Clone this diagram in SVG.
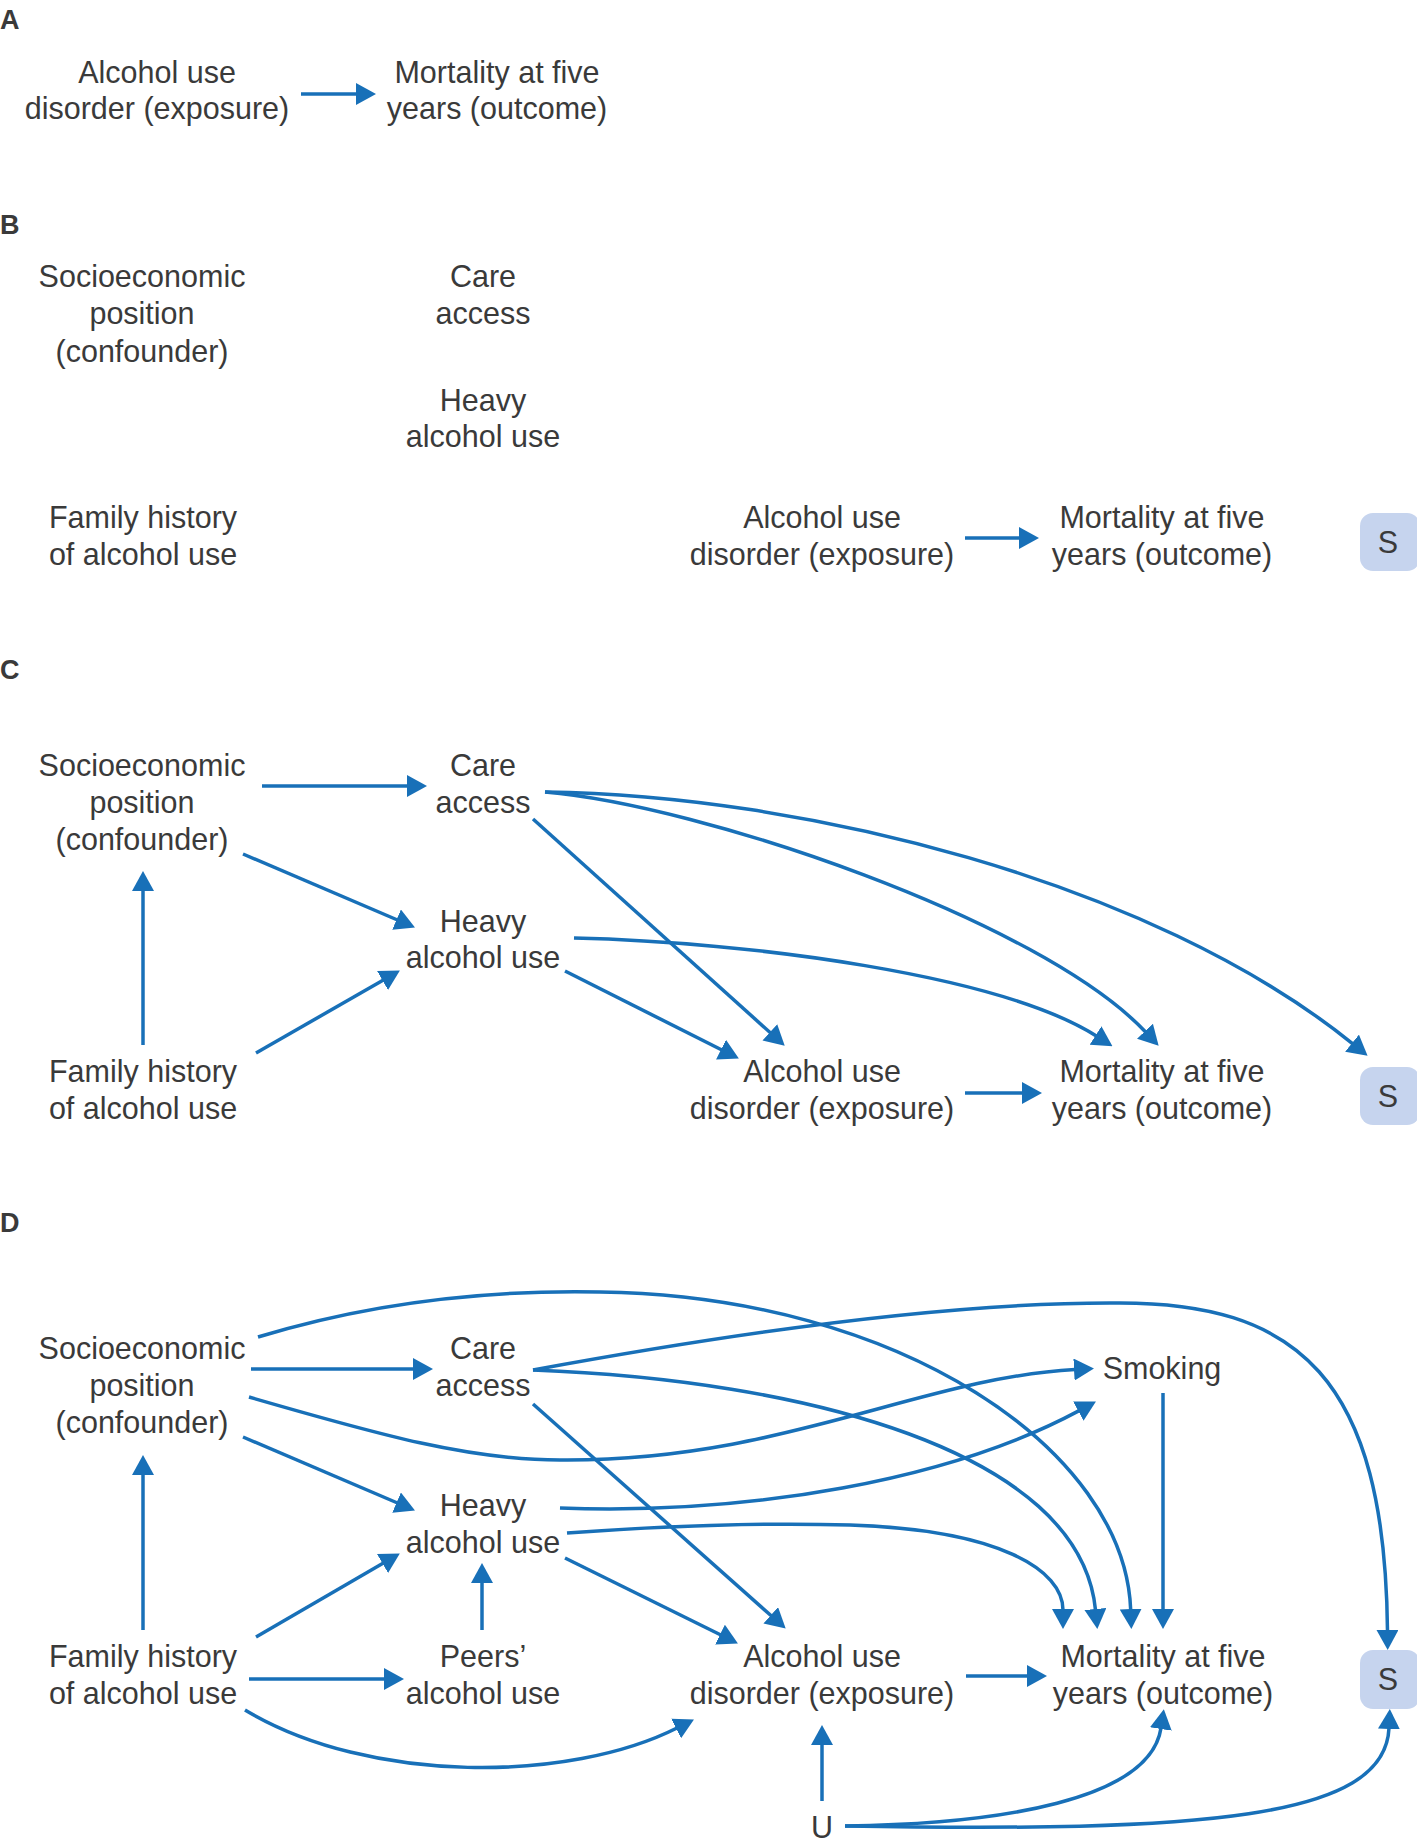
<svg xmlns="http://www.w3.org/2000/svg" width="1417" height="1847" viewBox="0 0 1417 1847">
<style>
.t{font-family:"Liberation Sans",Arial,sans-serif;font-size:30.5px;fill:#3a3a3a;text-anchor:middle}
.lb{font-family:"Liberation Sans",Arial,sans-serif;font-size:27px;font-weight:bold;fill:#3a3a3a}
.e{fill:none;stroke:#1870b8;stroke-width:3.5;marker-end:url(#ah)}
.sb{fill:#c6d4ee}
</style>
<defs>
<marker id="ah" markerUnits="userSpaceOnUse" markerWidth="20" markerHeight="22" refX="1" refY="11" orient="auto" viewBox="0 0 20 22">
<path d="M0,0 L20,11 L0,22 z" fill="#1870b8"/>
</marker>
</defs>
<rect width="1417" height="1847" fill="#fff"/>

<!-- Panel labels -->
<text class="lb" x="0" y="29">A</text>
<text class="lb" x="0" y="234">B</text>
<text class="lb" x="0" y="679">C</text>
<text class="lb" x="0" y="1232">D</text>

<!-- Panel A -->
<g id="A-exposure"><text class="t" x="157" y="83">Alcohol use</text><text class="t" x="157" y="119">disorder (exposure)</text></g>
<g id="A-outcome"><text class="t" x="497" y="83">Mortality at five</text><text class="t" x="497" y="119">years (outcome)</text></g>

<!-- Panel B -->
<g id="B-socio"><text class="t" x="142" y="287">Socioeconomic</text><text class="t" x="142" y="324">position</text><text class="t" x="142" y="362">(confounder)</text></g>
<g id="B-care"><text class="t" x="483" y="287">Care</text><text class="t" x="483" y="324">access</text></g>
<g id="B-heavy"><text class="t" x="483" y="411">Heavy</text><text class="t" x="483" y="447">alcohol use</text></g>
<g id="B-family"><text class="t" x="143" y="528">Family history</text><text class="t" x="143" y="565">of alcohol use</text></g>
<g id="B-exposure"><text class="t" x="822" y="528">Alcohol use</text><text class="t" x="822" y="565">disorder (exposure)</text></g>
<g id="B-outcome"><text class="t" x="1162" y="528">Mortality at five</text><text class="t" x="1162" y="565">years (outcome)</text></g>
<g id="B-S"><rect class="sb" x="1360" y="513" width="60" height="58" rx="13"/><text class="t" x="1388" y="553">S</text></g>

<!-- Panel C -->
<g id="C-socio"><text class="t" x="142" y="776">Socioeconomic</text><text class="t" x="142" y="813">position</text><text class="t" x="142" y="850">(confounder)</text></g>
<g id="C-care"><text class="t" x="483" y="776">Care</text><text class="t" x="483" y="813">access</text></g>
<g id="C-heavy"><text class="t" x="483" y="932">Heavy</text><text class="t" x="483" y="968">alcohol use</text></g>
<g id="C-family"><text class="t" x="143" y="1082">Family history</text><text class="t" x="143" y="1119">of alcohol use</text></g>
<g id="C-exposure"><text class="t" x="822" y="1082">Alcohol use</text><text class="t" x="822" y="1119">disorder (exposure)</text></g>
<g id="C-outcome"><text class="t" x="1162" y="1082">Mortality at five</text><text class="t" x="1162" y="1119">years (outcome)</text></g>
<g id="C-S"><rect class="sb" x="1360" y="1067" width="60" height="58" rx="13"/><text class="t" x="1388" y="1107">S</text></g>

<!-- Panel D -->
<g id="D-socio"><text class="t" x="142" y="1359">Socioeconomic</text><text class="t" x="142" y="1396">position</text><text class="t" x="142" y="1433">(confounder)</text></g>
<g id="D-care"><text class="t" x="483" y="1359">Care</text><text class="t" x="483" y="1396">access</text></g>
<g id="D-smoking"><text class="t" x="1162" y="1379">Smoking</text></g>
<g id="D-heavy"><text class="t" x="483" y="1516">Heavy</text><text class="t" x="483" y="1553">alcohol use</text></g>
<g id="D-family"><text class="t" x="143" y="1667">Family history</text><text class="t" x="143" y="1704">of alcohol use</text></g>
<g id="D-peers"><text class="t" x="483" y="1667">Peers’</text><text class="t" x="483" y="1704">alcohol use</text></g>
<g id="D-exposure"><text class="t" x="822" y="1667">Alcohol use</text><text class="t" x="822" y="1704">disorder (exposure)</text></g>
<g id="D-outcome"><text class="t" x="1163" y="1667">Mortality at five</text><text class="t" x="1163" y="1704">years (outcome)</text></g>
<g id="D-S"><rect class="sb" x="1360" y="1650" width="60" height="59" rx="13"/><text class="t" x="1388" y="1690">S</text></g>
<g id="D-U"><text class="t" x="822" y="1838">U</text></g>

<g id="connectors">
<!-- A -->
<path class="e" d="M301,94 H357"/>
<!-- B -->
<path class="e" d="M965,538 H1020"/>
<!-- C -->
<path class="e" d="M262,786 H408"/>
<path class="e" d="M243,854 L397.5,920"/>
<path class="e" d="M143,1045 V890"/>
<path class="e" d="M256,1053 L383.4,980"/>
<path class="e" d="M533,819 L770.6,1033"/>
<path class="e" d="M565,971 L721.9,1050"/>
<path class="e" d="M965,1093 H1023"/>
<path class="e" d="M545,792 C700,805 1040,920 1145.6,1032"/>
<path class="e" d="M545,792 C800,795 1150,880 1352.8,1043.8"/>
<path class="e" d="M574,938 C750,942 1000,975 1096.4,1036"/>
<!-- D -->
<path class="e" d="M251,1369 H414"/>
<path class="e" d="M243,1437 L397.5,1503"/>
<path class="e" d="M143,1630 V1474"/>
<path class="e" d="M256,1637 L383.4,1563"/>
<path class="e" d="M482,1630 V1582"/>
<path class="e" d="M249,1679 H385"/>
<path class="e" d="M245,1710 C370,1785 570,1782 677,1728"/>
<path class="e" d="M533,1404 L771.5,1616"/>
<path class="e" d="M565,1558 L720.9,1635"/>
<path class="e" d="M966,1676 H1028"/>
<path class="e" d="M822,1801 V1744"/>
<path class="e" d="M1163,1393 V1610"/>
<path class="e" d="M258,1337 C380,1300 500,1290 600,1292 C900,1296 1125,1450 1130.7,1610"/>
<path class="e" d="M533,1370 C800,1380 1080,1450 1095.5,1610"/>
<path class="e" d="M567,1533 C650,1527 750,1522 850,1525 C1000,1530 1063,1570 1063,1610"/>
<path class="e" d="M560,1508 C750,1515 950,1480 1079.2,1410.6"/>
<path class="e" d="M249,1397 C380,1435 470,1460 560,1460 C780,1462 920,1378 1075,1369.5"/>
<path class="e" d="M533,1370 C750,1330 950,1303 1110,1303 C1300,1300 1385,1380 1387.5,1631"/>
<path class="e" d="M845,1826 C1000,1824 1150,1800 1161,1728"/>
<path class="e" d="M845,1826 C1200,1832 1385,1820 1389,1728"/>
</g>
</svg>
